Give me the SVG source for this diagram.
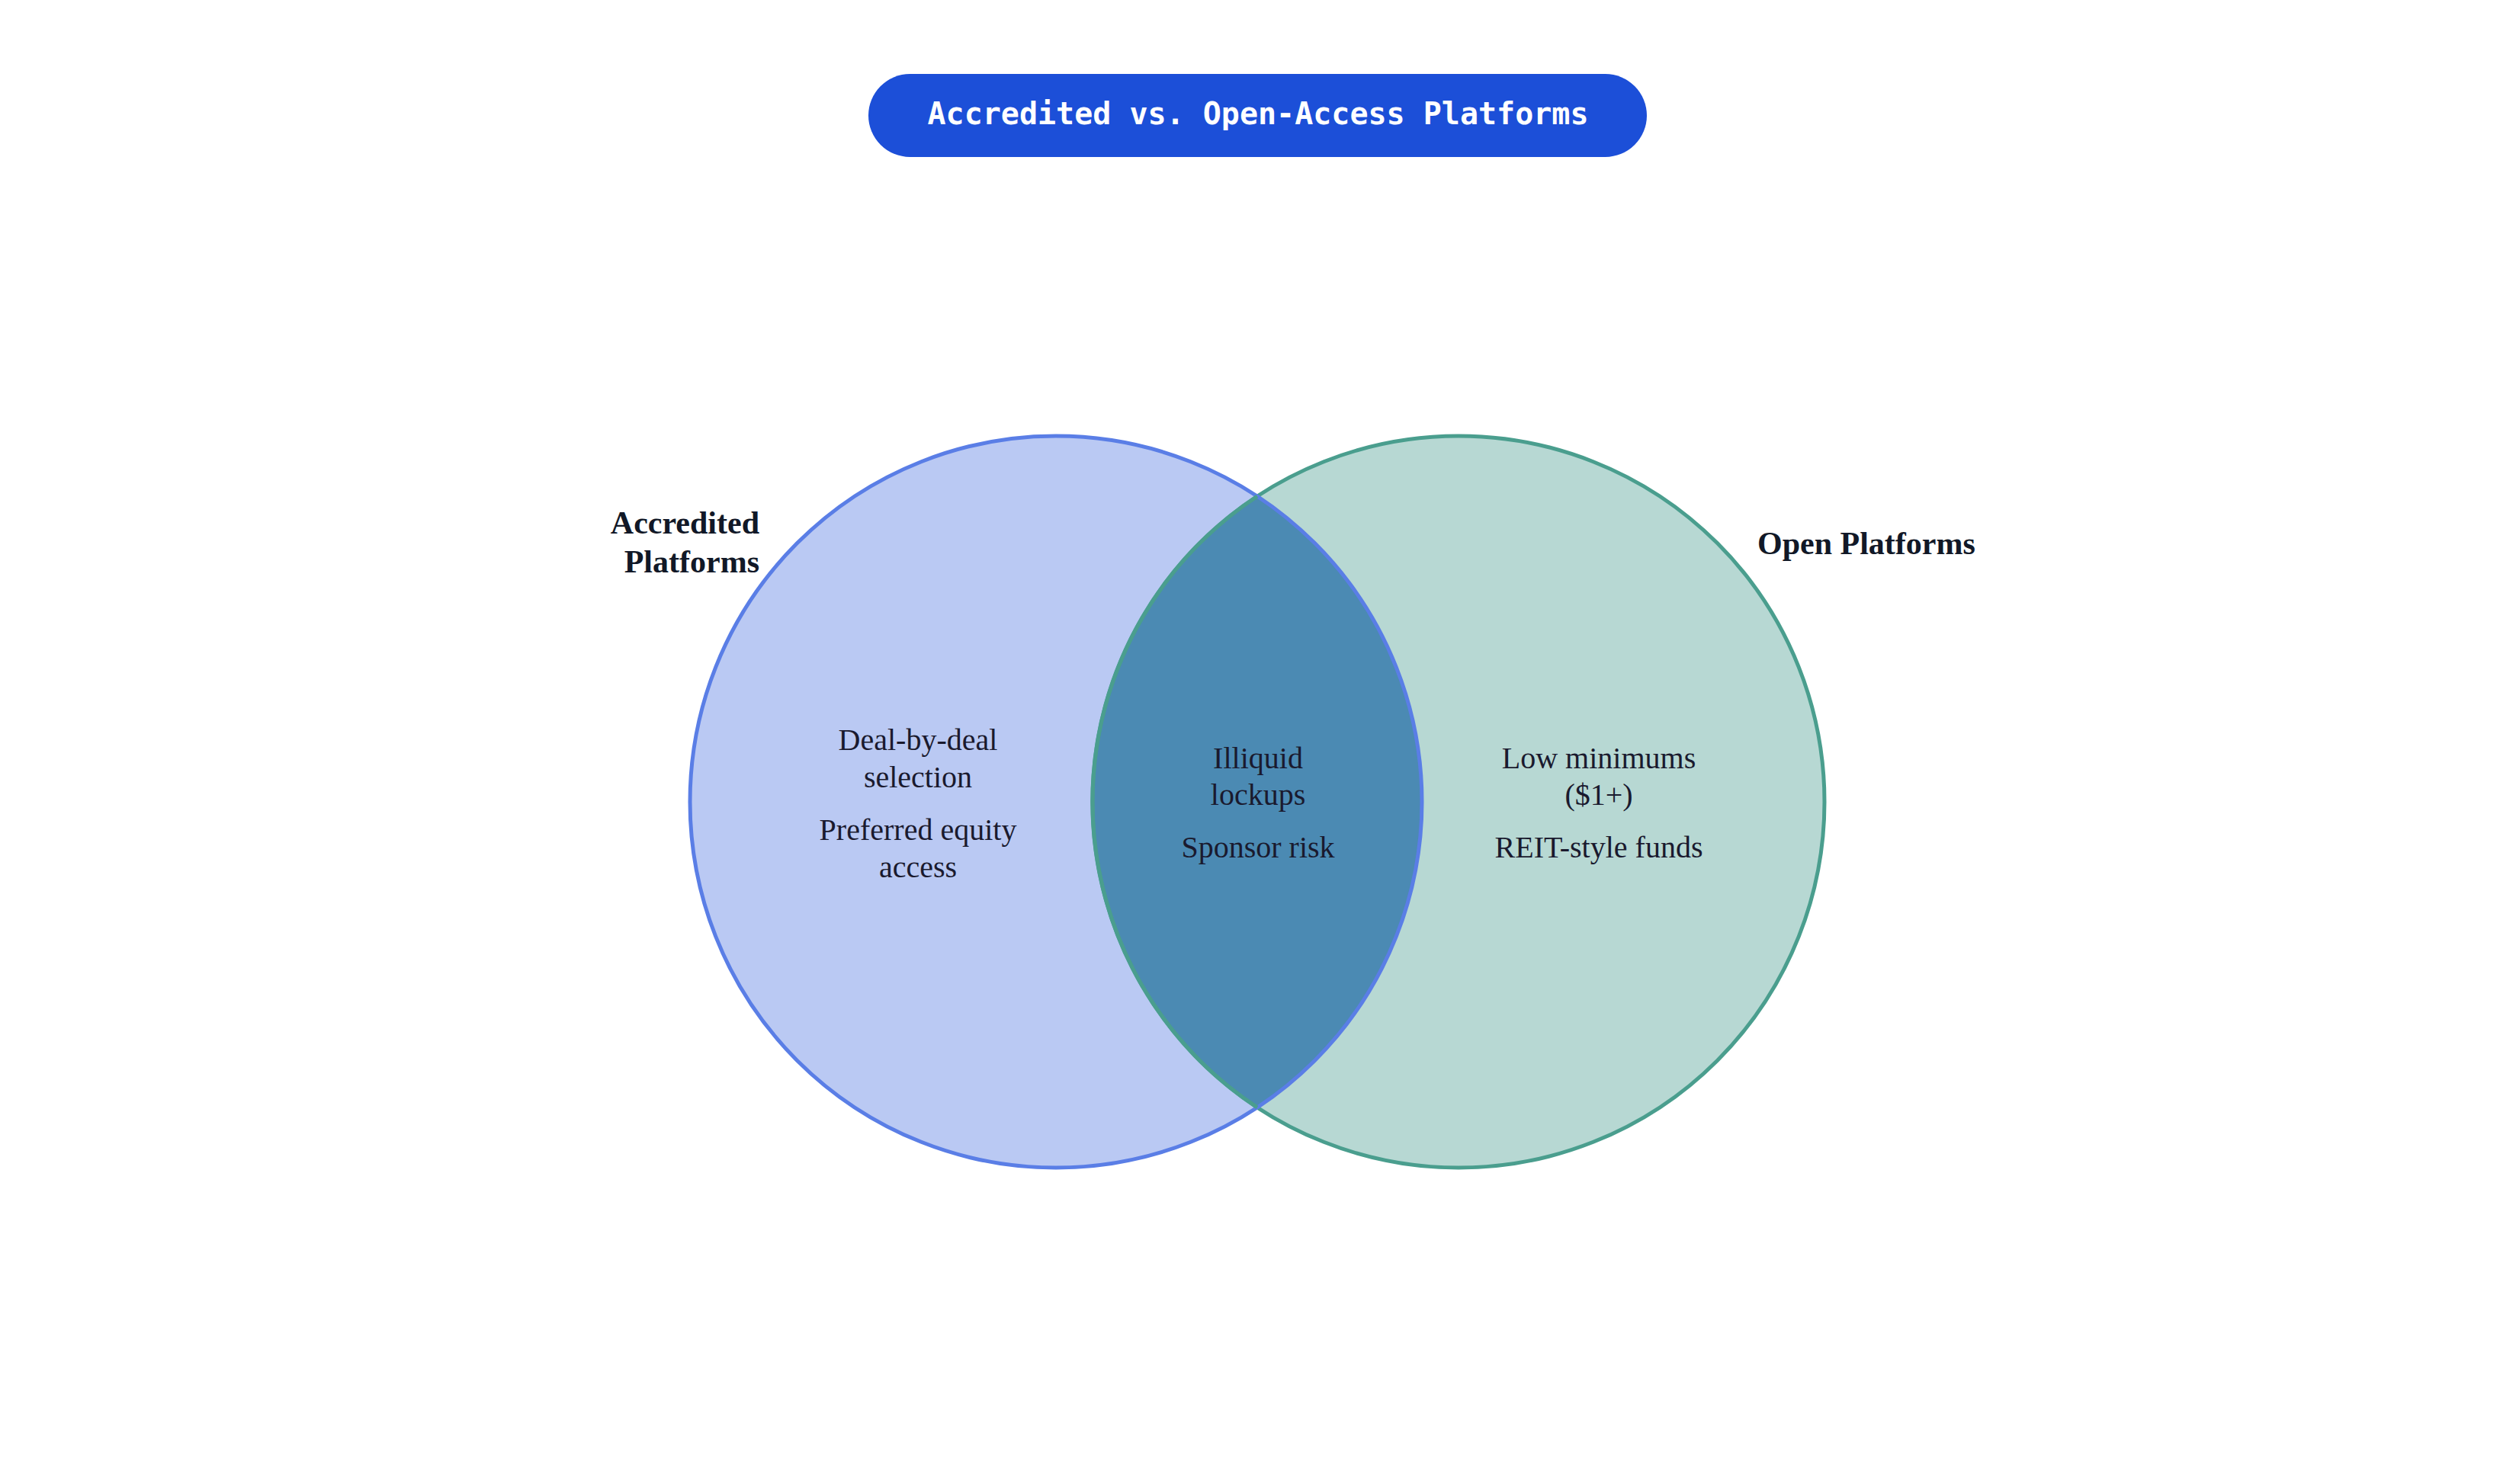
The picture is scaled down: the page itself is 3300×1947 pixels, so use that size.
<svg xmlns="http://www.w3.org/2000/svg" width="3300" height="1947" viewBox="0 0 3300 1947">
<style>
.t{font-family:"Liberation Serif","Times New Roman",serif;font-size:40px;fill:#1a1a2e;text-anchor:middle}
.lb{font-family:"Liberation Serif","Times New Roman",serif;font-size:42px;font-weight:bold;fill:#111827}
</style>
<rect width="3300" height="1947" fill="#ffffff"/>
<g id="title">
<rect x="1139" y="97" width="1021" height="109" rx="54.5" fill="#1c4fd8"/>
<text x="1650" y="163" font-family="'DejaVu Sans Mono',monospace" font-weight="bold" font-size="40" fill="#ffffff" text-anchor="middle">Accredited vs. Open-Access Platforms</text>
</g>
<g id="accredited">
<circle cx="1385" cy="1052" r="480" fill="#bac9f3"/>
</g>
<g id="open">
<circle cx="1913" cy="1052" r="480" fill="#b7d8d3"/>
</g>
<g id="overlap">
<path d="M1649 651 A480 480 0 0 1 1649 1453 A480 480 0 0 1 1649 651 Z" fill="#4b8ab3"/>
</g>
<g id="outlines" fill="none" stroke-width="5">
<circle cx="1913" cy="1052" r="480" stroke="#4a9e8e"/>
<circle cx="1385" cy="1052" r="480" stroke="#5a7ee6"/>
<path d="M1649 651 A480 480 0 0 0 1649 1453" stroke="#4a9e8e"/>
</g>
<g id="labels">
<text class="lb" x="996" y="700" text-anchor="end">Accredited</text>
<text class="lb" x="996" y="751" text-anchor="end">Platforms</text>
<text class="lb" x="2305" y="727">Open Platforms</text>
</g>
<g id="left-items">
<text class="t" x="1204" y="984">Deal-by-deal</text>
<text class="t" x="1204" y="1033">selection</text>
<text class="t" x="1204" y="1102">Preferred equity</text>
<text class="t" x="1204" y="1151">access</text>
</g>
<g id="center-items">
<text class="t" x="1650" y="1008">Illiquid</text>
<text class="t" x="1650" y="1056">lockups</text>
<text class="t" x="1650" y="1125">Sponsor risk</text>
</g>
<g id="right-items">
<text class="t" x="2097" y="1008">Low minimums</text>
<text class="t" x="2097" y="1056">($1+)</text>
<text class="t" x="2097" y="1125">REIT-style funds</text>
</g>
</svg>
